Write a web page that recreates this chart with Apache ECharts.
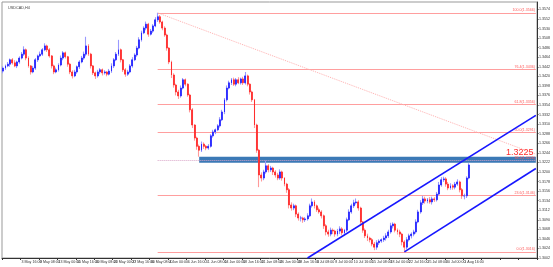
<!DOCTYPE html>
<html><head><meta charset="utf-8">
<script src="https://cdn.jsdelivr.net/npm/echarts@6/dist/echarts.min.js"></script>
<style>html,body{margin:0;padding:0;background:#fff}#c{width:553px;height:267px}</style>
</head><body><div id="c"></div>
<script>
const symbolName = 'USDCAD,H4';
const firstOpen = 1.3432;
const closes = [
1.3439,1.3444,1.3448,1.3458,1.3451,1.3444,1.3453,1.3462,1.3471,1.3481,
1.3462,1.3444,1.3430,1.3439,1.3458,1.3467,1.3471,1.3481,1.3490,1.3481,
1.3467,1.3444,1.3430,1.3435,1.3446,1.3462,1.3474,1.3465,1.3448,1.3430,
1.3421,1.3430,1.3442,1.3453,1.3462,1.3471,1.3490,1.3471,1.3444,1.3428,
1.3421,1.3430,1.3435,1.3428,1.3430,1.3425,1.3432,1.3444,1.3458,1.3471,
1.3481,1.3458,1.3435,1.3425,1.3430,1.3444,1.3458,1.3469,1.3485,1.3504,
1.3520,1.3531,1.3540,1.3517,1.3524,1.3536,1.3550,1.3557,1.3545,1.3531,
1.3515,1.3485,1.3453,1.3423,1.3400,1.3384,1.3375,1.3393,1.3412,1.3402,
1.3377,1.3343,1.3308,1.3278,1.3259,1.3250,1.3264,1.3259,1.3255,1.3259,
1.3283,1.3292,1.3297,1.3306,1.3320,1.3338,1.3366,1.3393,1.3405,1.3412,
1.3402,1.3412,1.3405,1.3414,1.3405,1.3421,1.3402,1.3384,1.3366,1.3308,
1.3250,1.3193,1.3186,1.3200,1.3214,1.3205,1.3209,1.3200,1.3193,1.3186,
1.3200,1.3186,1.3172,1.3159,1.3124,1.3117,1.3122,1.3103,1.3094,1.3094,
1.3090,1.3092,1.3099,1.3122,1.3131,1.3122,1.3113,1.3108,1.3099,1.3076,
1.3062,1.3057,1.3066,1.3064,1.3057,1.3064,1.3069,1.3060,1.3066,1.3090,
1.3108,1.3122,1.3129,1.3131,1.3117,1.3085,1.3066,1.3053,1.3048,1.3044,
1.3034,1.3027,1.3037,1.3041,1.3044,1.3048,1.3053,1.3062,1.3076,1.3080,
1.3066,1.3062,1.3057,1.3039,1.3027,1.3044,1.3053,1.3057,1.3062,1.3085,
1.3108,1.3129,1.3138,1.3133,1.3136,1.3131,1.3138,1.3136,1.3149,1.3170,
1.3182,1.3184,1.3172,1.3163,1.3168,1.3165,1.3172,1.3177,1.3159,1.3145,
1.3145,1.3186,1.3216];
const wickUp = [
4,3,5,3,4,6,3,4,5,8, 3,4,2,5,4,3,6,4,6,3, 4,2,3,5,4,6,4,3,2,3, 4,5,3,4,5,6,21,4,3,2,
3,5,4,3,4,2,5,6,4,5, 23,3,2,4,5,4,6,4,5,6, 5,4,6,3,5,4,6,9,4,3, 4,3,2,3,4,3,5,6,4,3,
2,3,4,2,3,4,6,4,3,5, 4,5,3,4,6,5,4,6,5,4, 5,4,6,3,5,9,3,2,3,2, 3,3,6,5,12,4,5,3,4,5,
6,3,2,3,4,6,5,3,4,5, 3,4,6,5,8,4,3,5,4,3, 4,5,6,4,3,5,6,4,3,5, 6,5,7,8,4,3,2,4,5,3,
4,5,6,4,3,5,6,5,7,4, 3,4,5,3,4,6,5,4,5,6, 5,6,7,5,4,6,5,4,5,7, 6,5,4,5,6,4,5,6,3,4,
5,4,4];
const wickDown = [
5,4,3,6,4,3,5,4,3,4, 5,4,6,3,4,5,3,4,3,5, 4,6,5,3,4,3,5,4,6,5, 6,3,4,5,3,4,5,4,6,5,
7,4,5,6,4,5,3,4,5,3, 4,6,5,6,4,3,4,3,4,3, 4,3,5,6,3,4,3,5,4,5, 4,6,5,7,6,8,7,4,3,5,
4,6,7,6,8,15,4,6,5,4, 3,4,5,3,4,3,5,4,3,5, 4,5,3,4,5,4,5,6,5,7, 6,28,8,5,4,6,5,7,6,5,
4,6,5,7,8,6,5,7,6,8, 7,5,4,3,4,6,5,4,6,7, 8,6,5,7,6,5,7,6,5,4, 3,4,5,4,6,7,6,5,7,6,
5,7,6,5,4,5,6,5,4,6, 5,6,7,8,11,5,4,6,5,4, 3,4,5,6,5,4,6,5,4,3, 4,5,6,5,4,6,5,4,6,7,
8,5,3];
const tickLabels = ["1 May 2019","3 May 16:00","8 May 08:00","13 May 00:00","15 May 16:00","20 May 08:00","23 May 00:00","27 May 16:00","30 May 08:00","4 Jun 00:00","6 Jun 16:00","11 Jun 08:00","14 Jun 00:00","18 Jun 16:00","21 Jun 08:00","26 Jun 00:00","28 Jun 16:00","3 Jul 08:00","8 Jul 00:00","10 Jul 16:00","15 Jul 08:00","18 Jul 00:00","22 Jul 16:00","25 Jul 08:00","30 Jul 00:00","1 Aug 16:00"];
const barsPerLabel = 8;
const totalSlots = 232;
const fibNames = ['0.0','23.6','38.2','50.0','61.8','76.4','100.0'];
const fibPrices = [1.3016,1.3146,1.3226,1.3291,1.3356,1.3436,1.3566];
const fibStartBar = 67;
const zoneBand = [1.3221, 1.3235];
const zoneStartBar = 85;
const zoneLabel = '1.3225';
const zoneLabelAt = [224, 1.3244];
const channelUpper = [[132, 1.3002],[231, 1.3330]];
const channelLower = [[174, 1.3016],[231, 1.3208]];
const fibDiagonal = [[67, 1.3566],[231, 1.3241]];
const yMin = 1.3002, yMax = 1.3591, yStep = 0.0022;

const pip = 0.0001;
const categories = [];
for (let i = 0; i < totalSlots; i++) categories.push('b' + i);
const wickData = [], bodyData = [];
for (let i = 0; i < closes.length; i++) {
  const o = i ? closes[i-1] : firstOpen, c = closes[i];
  const hi = Math.max(o,c) + wickUp[i]*pip, lo = Math.min(o,c) - wickDown[i]*pip;
  wickData.push([o, c, lo, hi]);
  bodyData.push([o, c, Math.min(o,c), Math.max(o,c)]);
}
const lastClose = closes[closes.length-1];
const F = 'Liberation Sans, Arial, sans-serif';

const fibLines = fibPrices.map((p,k) => [
  {coord:[fibStartBar,p], symbol:'none',
   lineStyle:{color: k===2 ? '#d9a6c8' : '#ff9e9e', width:1, type: k===2 ? 'dotted':'solid'},
   label:{show:true, position:'insideEndTop', distance:[1,0.5], formatter: fibNames[k]+'('+p.toFixed(4)+')', color:'#ff5a5a', fontSize:3.6, fontFamily:F}},
  {coord:[totalSlots-1,p], symbol:'none'}]);

const chart = echarts.init(document.getElementById('c'), null, {renderer:'canvas'});
chart.setOption({
  animation:false,
  backgroundColor:'#ffffff',
  title:{text:symbolName, left:3, top:1, textStyle:{fontSize:3.8, color:'#444', fontWeight:'normal', fontFamily:F}},
  grid:{left:2, right:12, top:2, bottom:9, show:true, borderColor:'#999', borderWidth:1, backgroundColor:'#fff'},
  xAxis:{type:'category', data:categories, boundaryGap:true,
    axisLine:{lineStyle:{color:'#333', width:1}},
    axisTick:{show:true, interval:barsPerLabel-1, length:2, lineStyle:{color:'#333'}},
    axisLabel:{interval:barsPerLabel-1, align:'left', margin:2, fontSize:3.6, color:'#333', fontFamily:F,
      formatter:(v,idx)=> tickLabels[idx/barsPerLabel] || ''},
    splitLine:{show:false}},
  yAxis:{type:'value', position:'right', min:yMin, max:yMax, interval:yStep, scale:true,
    axisLine:{show:true, lineStyle:{color:'#333', width:1}},
    axisTick:{show:true, length:1.5, lineStyle:{color:'#333'}},
    axisLabel:{margin:2, fontSize:3.6, color:'#333', fontFamily:F, showMaxLabel:false, formatter:v=>v.toFixed(4)},
    splitLine:{show:false}},
  series:[
    {type:'candlestick', name:'wick', data:wickData, barWidth:0.8, z:3,
     itemStyle:{color:'#9a9aff', color0:'#ff9a9a', borderColor:'#9a9aff', borderColor0:'#ff9a9a', borderColorDoji:'#9a9aff', borderWidth:1.1},
     markArea:{silent:true, z:1, itemStyle:{color:'#3b79b6'},
       data:[[{coord:[zoneStartBar, zoneBand[1]]},{coord:[totalSlots-1, zoneBand[0]]}]]},
     markLine:{silent:true, symbol:['none','none'], z:2, data: fibLines.concat([
       [{coord:fibDiagonal[0], lineStyle:{color:'#ffb0b0', width:1, type:'dotted'}, label:{show:false}},{coord:fibDiagonal[1]}],
     ])}
    },
    {type:'candlestick', name:'body', data:bodyData, barWidth:1.4, z:5,
     itemStyle:{color:'#2323ff', color0:'#ff2a2a', borderColor:'#2323ff', borderColor0:'#ff2a2a', borderColorDoji:'#2323ff', borderWidth:0.8},
     markLine:{silent:true, symbol:['none','none'], z:6, data:[
       [{coord:channelUpper[0], lineStyle:{color:'#1717ff', width:1.6, type:'solid'}, label:{show:false}},{coord:channelUpper[1]}],
       [{coord:channelLower[0], lineStyle:{color:'#1717ff', width:1.6, type:'solid'}, label:{show:false}},{coord:channelLower[1]}],
       {yAxis:lastClose, lineStyle:{opacity:0}, label:{show:true, position:'end', distance:1, formatter:lastClose.toFixed(4), backgroundColor:'#000', color:'#fff', fontSize:3.6, padding:[1,1], fontFamily:F}}
     ]},
     markPoint:{silent:true, symbol:'circle', symbolSize:0, data:[
       {coord:zoneLabelAt, label:{show:true, position:'inside', formatter:zoneLabel, color:'#ff2b2b', fontSize:9, fontFamily:F}}
     ]}
    }
  ]
});
</script></body></html>
